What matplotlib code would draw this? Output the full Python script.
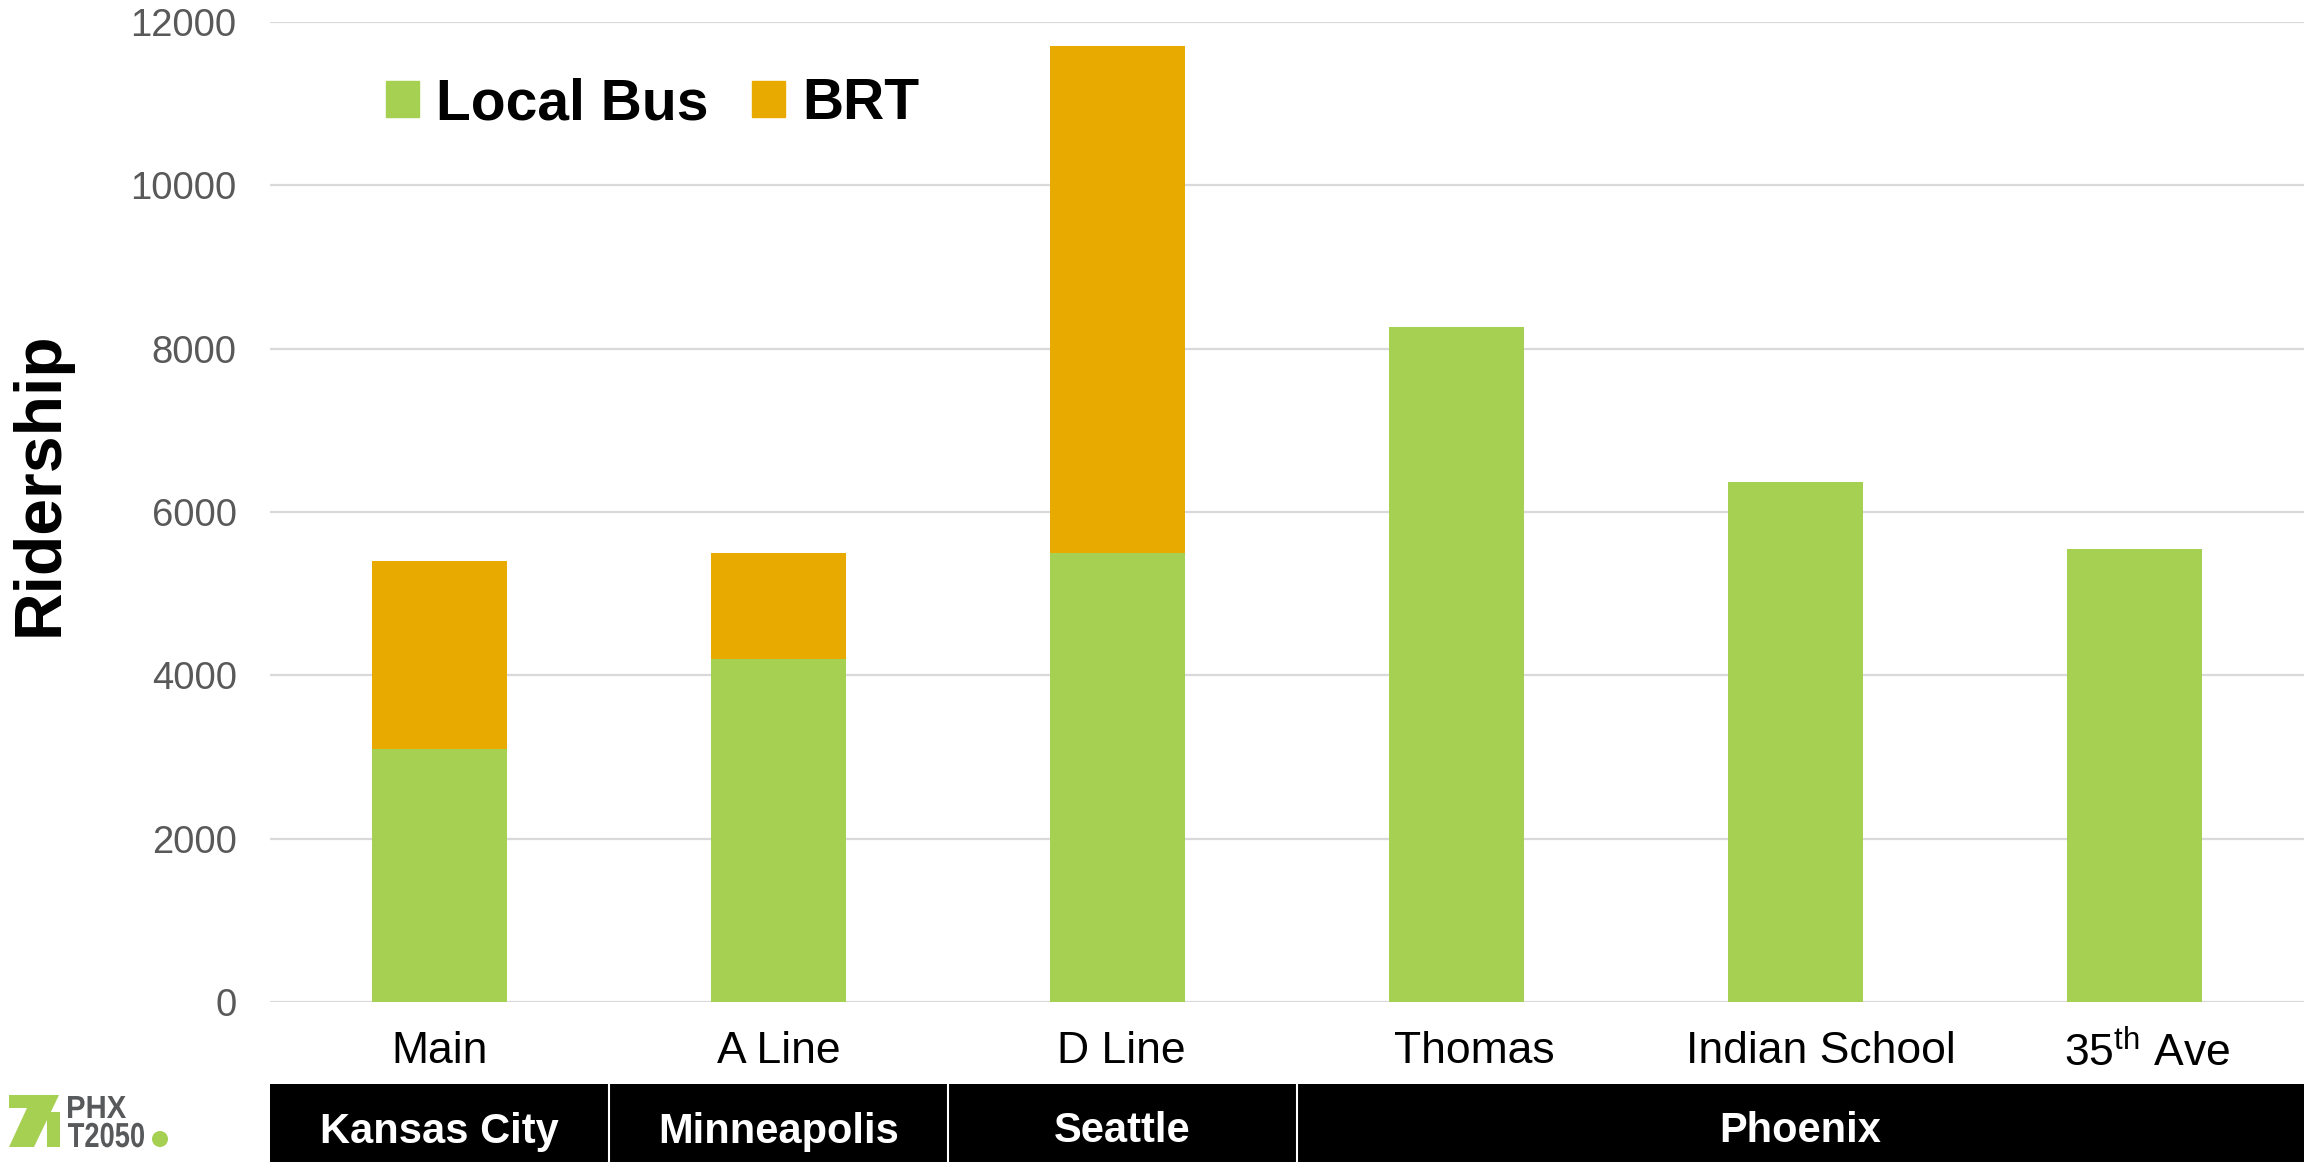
import matplotlib
matplotlib.use("Agg")
from matplotlib import pyplot as plt
from matplotlib.patches import Patch, Rectangle, Polygon, Circle, PathPatch
from matplotlib.textpath import TextPath
from matplotlib.font_manager import FontProperties
from matplotlib.transforms import blended_transform_factory, Affine2D, ScaledTranslation

plt.rcParams['font.family'] = ['Liberation Sans', 'DejaVu Sans']
plt.rcParams['mathtext.fontset'] = 'custom'
plt.rcParams['mathtext.rm'] = 'Liberation Sans'

# data
routes = ['Main', 'A Line', 'D Line', 'Thomas', 'Indian School', '35$^{\\mathrm{th}}$ Ave']
local_bus = [3100, 4200, 5500, 8260, 6370, 5550]
brt = [2300, 1300, 6200, 0, 0, 0]
cities = ['Kansas City', 'Minneapolis', 'Seattle', 'Phoenix']
yticks = [0, 2000, 4000, 6000, 8000, 10000, 12000]

GREEN = '#a6d052'
ORANGE = '#e9aa00'
LOGO_GREY = '#58595b'
W, H = 2313, 1162

fig = plt.figure(figsize=(W / 100, H / 100), dpi=100)
ax = fig.add_axes([270 / W, 1 - 1002 / H, 2034 / W, 980 / H])

x = list(range(len(routes)))
ax.bar(x, local_bus, width=0.4, color=GREEN, linewidth=0, zorder=3)
ax.bar(x, brt, width=0.4, bottom=local_bus, color=ORANGE, linewidth=0, zorder=3)

ax.set_xlim(-0.5, len(routes) - 0.5)
ax.set_ylim(0, 12000)
ax.set_yticks(yticks)
ax.set_yticklabels([str(v) for v in yticks])
ax.set_xticks(x)
ax.set_xticklabels(routes)
ax.tick_params(axis='y', length=0, pad=24, labelsize=27.5, labelcolor='#595959')
ax.tick_params(axis='x', length=0, pad=21, labelsize=32, labelcolor='black')
ax.grid(axis='y', color='#d9d9d9', linewidth=1.6, zorder=0)
for s in ax.spines.values():
    s.set_visible(False)

# the Phoenix labels sit a little right of their bars in the original
label_shift_px = [0, 0, 4, 18, 25, 13]
for lab, dx in zip(ax.get_xticklabels(), label_shift_px):
    lab.set_transform(lab.get_transform() + ScaledTranslation(dx / 100, 0, fig.dpi_scale_trans))

ax.set_ylabel('Ridership', fontsize=47.5, fontweight='bold', va='center')
ax.yaxis.set_label_coords(-0.113, 0.529)

handles = [Patch(color=GREEN, label='Local Bus'), Patch(color=ORANGE, label='BRT')]
ax.legend(handles=handles, loc='center left', bbox_to_anchor=(386 / W, 1 - 104 / H),
          bbox_transform=fig.transFigure, ncol=2, frameon=False,
          prop={'weight': 'bold', 'size': 41}, handlelength=0.58, handleheight=0.58,
          handletextpad=0.3, columnspacing=0.77, borderpad=0, borderaxespad=0)

# city band under the route labels (cell edges in axis units)
band_edges = [-0.5, 0.5, 1.5, 2.53, 5.5]
tr = blended_transform_factory(ax.transData, fig.transFigure)
band_top = (H - 1084) / H
ax.add_patch(Rectangle((band_edges[0], 0), band_edges[-1] - band_edges[0], band_top,
                       transform=tr, facecolor='black', edgecolor='none', clip_on=False))
for i, city in enumerate(cities):
    left, right = band_edges[i], band_edges[i + 1]
    ax.text((left + right) / 2, 1 - 1127 / H, city, transform=tr, color='white',
            fontsize=30, fontweight='bold', ha='center', va='center_baseline')
    if i > 0:
        ax.plot([left, left], [0, band_top], transform=tr,
                color='white', linewidth=1.5, clip_on=False)

# PHX T2050 logo, drawn in pixel coordinates (y measured from the top)
def px(xp, yp):
    return (xp / W, 1 - yp / H)

ft = fig.transFigure
for pts in ([(9, 1095), (45, 1095), (45, 1108), (9, 1108)],
            [(33, 1095), (59, 1095), (34, 1147), (9, 1147)],
            [(47, 1112), (60, 1112), (60, 1147), (47, 1147)]):
    fig.patches.append(Polygon([px(*p) for p in pts], closed=True, transform=ft,
                               facecolor=GREEN, edgecolor='none'))

bold = FontProperties(family='Liberation Sans', weight='bold')
def narrow_text(s, x0, baseline, width, height):
    tp = TextPath((0, 0), s, size=1, prop=bold)
    ext = tp.get_extents()
    t = Affine2D().translate(-ext.x0, 0).scale(width / ext.width, height / 0.72)
    t = t.translate(x0, H - baseline)
    fig.patches.append(PathPatch(tp, transform=t, facecolor=LOGO_GREY,
                                 edgecolor='none'))

narrow_text('PHX', 68, 1118, 58, 23)
narrow_text('T2050', 68, 1147, 76, 25)
fig.patches.append(Circle((160, H - 1139), 8, transform=Affine2D(),
                          facecolor=GREEN, edgecolor='none'))

fig.savefig('out.png', dpi=100)
